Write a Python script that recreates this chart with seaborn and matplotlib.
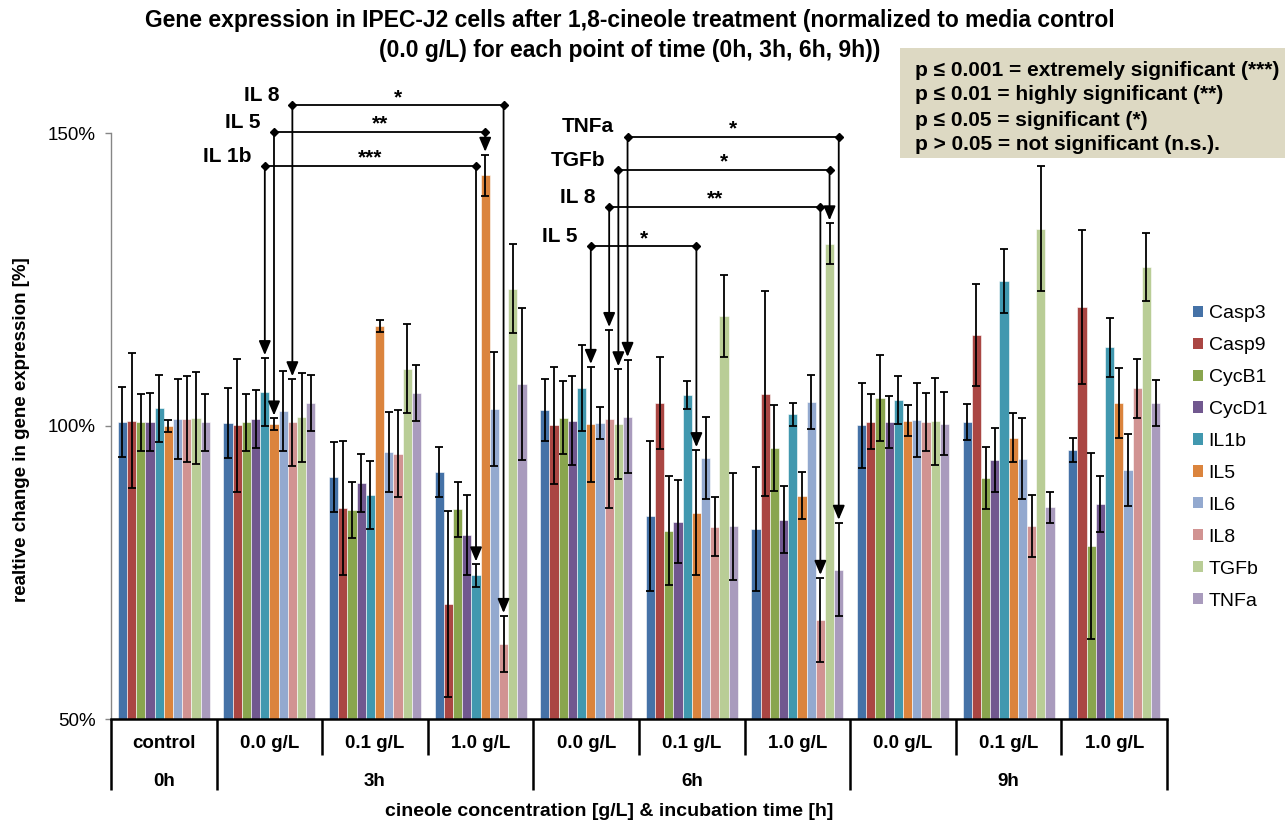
import numpy as np
import pandas as pd
import matplotlib
matplotlib.use("Agg")
import matplotlib.pyplot as plt
from matplotlib.patches import Patch, Rectangle
import seaborn as sns

# ---- data -------------------------------------------------------------
genes = ["Casp3", "Casp9", "CycB1", "CycD1", "IL1b", "IL5", "IL6", "IL8", "TGFb", "TNFa"]
concentrations = ["control", "0.0 g/L", "0.1 g/L", "1.0 g/L", "0.0 g/L", "0.1 g/L",
                  "1.0 g/L", "0.0 g/L", "0.1 g/L", "1.0 g/L"]
time_points = ["0h", "3h", "3h", "3h", "6h", "6h", "6h", "9h", "9h", "9h"]

# mean relative expression [%] per condition
casp3 = [100.7, 100.5, 91.3, 92.1, 102.7, 84.6, 82.4, 100.1, 100.7, 95.9]
casp9 = [100.9, 100.1, 86.0, 69.6, 100.1, 103.9, 105.5, 100.7, 115.6, 120.3]
cycb1 = [100.6, 100.6, 85.7, 85.8, 101.4, 82.1, 96.2, 104.8, 91.2, 79.5]
cycd1 = [100.7, 101.2, 90.3, 81.4, 100.9, 83.7, 84.0, 100.7, 94.2, 86.7]
il1b = [103.0, 105.8, 88.2, 74.5, 106.5, 105.3, 102.0, 104.5, 124.7, 113.4]
il5 = [100.0, 100.3, 117.1, 142.8, 100.3, 85.2, 88.1, 100.9, 98.0, 103.9]
il6 = [101.2, 102.6, 95.6, 102.9, 100.5, 94.5, 104.1, 101.0, 94.4, 92.5]
il8 = [101.2, 100.6, 95.3, 62.8, 101.2, 82.8, 66.9, 100.7, 83.0, 106.4]
tgfb = [101.4, 101.5, 109.8, 123.4, 100.3, 118.8, 131.1, 100.8, 133.7, 127.1]
tnfa = [100.6, 103.9, 105.6, 107.2, 101.6, 82.9, 75.5, 100.4, 86.1, 103.9]

# standard deviations [%]
casp3_sd = [6.0, 5.9, 5.9, 4.3, 5.3, 12.8, 10.6, 7.2, 3.1, 2.1]
casp9_sd = [11.5, 11.4, 11.4, 15.9, 10.0, 7.9, 17.5, 4.7, 8.7, 13.2]
cycb1_sd = [4.8, 4.8, 4.8, 4.7, 6.2, 9.3, 7.3, 7.4, 5.3, 15.9]
cycd1_sd = [5.0, 5.0, 5.0, 6.9, 7.6, 7.0, 5.7, 4.5, 5.5, 4.8]
il1b_sd = [5.7, 5.8, 5.8, 1.9, 7.3, 2.4, 2.0, 4.1, 5.5, 5.0]
il5_sd = [1.0, 1.0, 1.0, 3.5, 9.8, 10.7, 4.0, 2.6, 4.2, 6.0]
il6_sd = [6.8, 6.8, 6.8, 9.7, 2.8, 7.0, 4.6, 6.3, 6.9, 6.1]
il8_sd = [7.3, 7.4, 7.4, 4.8, 15.2, 5.0, 7.2, 4.9, 5.3, 5.1]
tgfb_sd = [7.8, 7.6, 7.6, 7.6, 9.4, 7.0, 3.5, 7.4, 10.7, 5.8]
tnfa_sd = [4.8, 4.8, 4.8, 13.0, 9.7, 9.1, 8.0, 5.4, 2.7, 3.9]

means = [casp3, casp9, cycb1, cycd1, il1b, il5, il6, il8, tgfb, tnfa]
sds = [casp3_sd, casp9_sd, cycb1_sd, cycd1_sd, il1b_sd, il5_sd, il6_sd, il8_sd,
       tgfb_sd, tnfa_sd]

# significance brackets: label, stars, gene, from condition, to condition
comparisons = [
    ("IL 1b", "***", "IL1b", 1, 3),
    ("IL 5", "**", "IL5", 1, 3),
    ("IL 8", "*", "IL8", 1, 3),
    ("IL 5", "*", "IL5", 4, 5),
    ("IL 8", "**", "IL8", 4, 6),
    ("TGFb", "*", "TGFb", 4, 6),
    ("TNFa", "*", "TNFa", 4, 6),
]
bracket_levels = [144.4, 150.2, 154.7, 130.7, 137.4, 143.7, 149.4]

legend_lines = [
    "p \u2264 0.001 = extremely significant (***)",
    "p \u2264 0.01 = highly significant (**)",
    "p \u2264 0.05 = significant (*)",
    "p > 0.05 = not significant (n.s.).",
]

colors = ["#4572A7", "#AA4643", "#89A54E", "#71588F", "#4198AF",
          "#DB843D", "#93A9CF", "#D19392", "#B9CD96", "#A99BBD"]

# ---- figure -----------------------------------------------------------
sns.set_style("white")
plt.rcParams["font.family"] = ["Liberation Sans", "DejaVu Sans"]
plt.rcParams["text.color"] = "black"
plt.rcParams["axes.labelcolor"] = "black"
plt.rcParams["ytick.color"] = "black"
plt.rcParams["xtick.color"] = "black"

W, H = 1288, 823
fig = plt.figure(figsize=(W / 100, H / 100), dpi=100)
ax = fig.add_axes([111 / W, 1 - 719 / H, (1167 - 111) / W, (719 - 133) / H])

keys = [f"{t} {c}" for t, c in zip(time_points, concentrations)]
df = pd.DataFrame({
    "condition": np.repeat([keys], len(genes), axis=0).ravel(),
    "gene": np.repeat(genes, len(keys)),
    "value": np.concatenate(means),
})

sns.barplot(data=df, x="condition", y="value", hue="gene", order=keys,
            hue_order=genes, palette=colors, saturation=1, width=0.87,
            errorbar=None, edgecolor="white", linewidth=0.4, legend=False, ax=ax)

# error bars on top of each bar
centers = {}
for gi, (gene, cont) in enumerate(zip(genes, ax.containers)):
    xs = np.array([p.get_x() + p.get_width() / 2 for p in cont.patches])
    centers[gene] = xs
    ax.errorbar(xs, means[gi], yerr=sds[gi], fmt="none", ecolor="black",
                elinewidth=1.3, capsize=3, capthick=1.3, zorder=3)

ax.set_ylim(50, 150)
ax.set_xlim(-0.5, len(keys) - 0.5)
ax.set_yticks([50, 100, 150])
ax.set_yticklabels([f"{v}%" for v in (50, 100, 150)], fontsize=13.5)
ax.set_xticks([])
ax.set_xlabel("")
ax.set_ylabel("")
ax.tick_params(axis="y", direction="out", length=4, width=1, color="#868686", pad=7,
               left=True, labelcolor="black")
for side in ("top", "right"):
    ax.spines[side].set_visible(False)
ax.spines["left"].set_color("#868686")
ax.spines["left"].set_linewidth(1)
ax.spines["bottom"].set_color("black")
ax.spines["bottom"].set_linewidth(1.8)

# two-level category table below the axis
trans = ax.get_xaxis_transform()
ypx = lambda y: (719 - y) / 586.0
for b in np.arange(-0.5, len(keys)):
    left_t = time_points[int(b)] if b >= 0 else None
    right_t = time_points[int(b + 1)] if b + 1 < len(keys) else None
    major = left_t != right_t
    y_end = ypx(790) if major else ypx(755)
    ax.plot([b, b], [0, y_end], transform=trans, color="black", lw=1.8,
            clip_on=False, solid_capstyle="butt")
for i, c in enumerate(concentrations):
    ax.text(i, ypx(744), c, transform=trans, ha="center", va="center",
            fontsize=13.5, fontweight="bold")
for t in dict.fromkeys(time_points):
    idx = [i for i, tp in enumerate(time_points) if tp == t]
    ax.text(np.mean(idx), ypx(781), t, transform=trans, ha="center", va="center",
            fontsize=13.5, fontweight="bold")

# significance brackets with arrows pointing at the compared bars
gap = 0.5
for (label, stars, gene, g0, g1), level in zip(comparisons, bracket_levels):
    gi = genes.index(gene)
    x0, x1 = centers[gene][g0], centers[gene][g1]
    ax.plot([x0, x1], [level, level], color="black", lw=1.3, clip_on=False, zorder=6)
    ax.plot([x0, x1], [level, level], "D", ms=4.5, color="black", clip_on=False,
            zorder=7)
    for g, x in ((g0, x0), (g1, x1)):
        tip = means[gi][g] + sds[gi][g] + gap
        ax.annotate("", xy=(x, tip), xytext=(x, level), annotation_clip=False,
                    arrowprops=dict(arrowstyle="-|>,head_length=0.85,head_width=0.36",
                                    color="black", lw=1.3, shrinkA=0, shrinkB=0,
                                    mutation_scale=10), zorder=6)
    ax.annotate(label, xy=(x0, level), xytext=(-9.5, 3), textcoords="offset points",
                ha="right", va="baseline", fontsize=15, fontweight="bold",
                annotation_clip=False)
    ax.annotate(stars, xy=((x0 + x1) / 2, level), xytext=(0, 1.5),
                textcoords="offset points", ha="center", va="baseline",
                fontsize=15, fontweight="bold", annotation_clip=False)

# legend of genes
handles = [Patch(facecolor=c, edgecolor="none") for c in colors]
fig.legend(handles, genes, loc="upper left", bbox_to_anchor=(1193 / W, 1 - 305 / H),
           frameon=False, fontsize=14, handlelength=0.5, handleheight=0.5,
           handletextpad=0.3, labelspacing=0.77, borderpad=0, borderaxespad=0)

# significance key
fig.patches.append(Rectangle((900 / W, 1 - 158 / H), (1285 - 900) / W, 110 / H,
                             transform=fig.transFigure, facecolor="#DDD9C3",
                             edgecolor="none", zorder=0))
for i, line in enumerate(legend_lines):
    fig.text(915 / W, 1 - (70 + i * 25) / H, line, ha="left", va="center",
             fontsize=15, fontweight="bold")

# titles and axis labels
fig.text(630 / W, 1 - 20 / H,
         "Gene expression in IPEC-J2 cells after 1,8-cineole treatment "
         "(normalized to media control", ha="center", va="center",
         fontsize=16.5, fontweight="bold")
fig.text(630 / W, 1 - 50 / H,
         "(0.0 g/L) for each point of time (0h, 3h, 6h, 9h))",
         ha="center", va="center", fontsize=16.5, fontweight="bold")
fig.text(22 / W, 1 - 430 / H, "realtive change in gene expression [%]",
         rotation=90, ha="center", va="center", fontsize=13.5, fontweight="bold")
fig.text(609 / W, 1 - 812 / H, "cineole concentration [g/L] & incubation time [h]",
         ha="center", va="center", fontsize=14, fontweight="bold")

fig.savefig("out.png", dpi=100)
